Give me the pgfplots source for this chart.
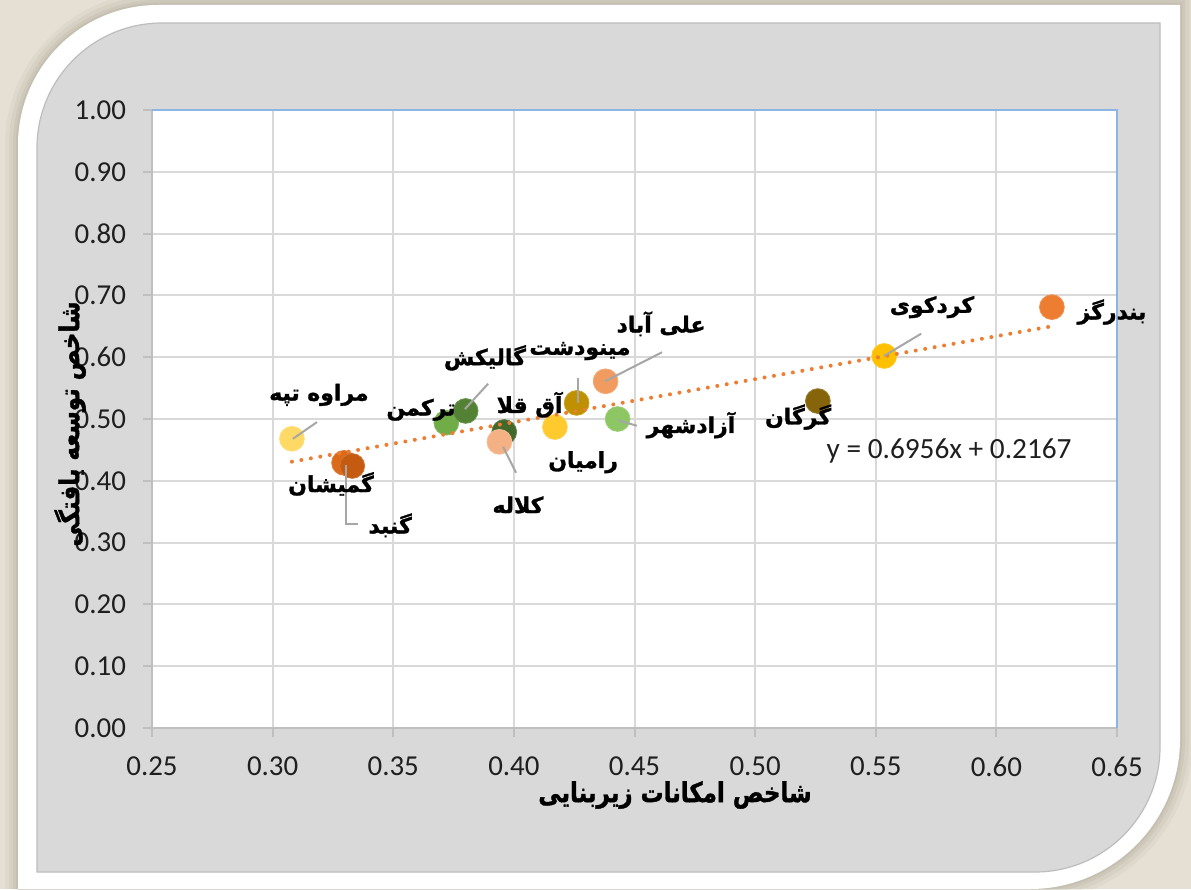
\documentclass[border=0pt]{standalone}
\usepackage{fontspec}
\setmainfont{Carlito}
\usepackage{pgfplots}
\pgfplotsset{compat=1.18}
\TeXXeTstate=1
\newfontfamily\fa[Script=Arabic, BoldFeatures={FakeBold=1.4}]{DejaVu Sans}
\definecolor{bgbeige}{HTML}{E6E0D4}
\definecolor{shadowc}{HTML}{A9A292}
\definecolor{panel}{HTML}{D9D9D9}
\definecolor{panelborder}{HTML}{BDBDBD}
\definecolor{gridc}{HTML}{D9D9D9}
\definecolor{axisc}{HTML}{BFBFBF}
\definecolor{bluec}{HTML}{8DB4E2}
\definecolor{leader}{HTML}{A6A6A6}
\definecolor{trend}{HTML}{ED7D31}
\definecolor{cMaraveh}{HTML}{FFD966}
\definecolor{cGomishan}{HTML}{DC6A1A}
\definecolor{cGonbad}{HTML}{C55A11}
\definecolor{cTorkaman}{HTML}{70AD47}
\definecolor{cGalikesh}{HTML}{548235}
\definecolor{cAghghala}{HTML}{43682B}
\definecolor{cKalaleh}{HTML}{F4B183}
\definecolor{cRamian}{HTML}{FFCA2E}
\definecolor{cMinoodasht}{HTML}{BF9000}
\definecolor{cAliabad}{HTML}{F19B61}
\definecolor{cAzadshahr}{HTML}{8CC763}
\definecolor{cGorgan}{HTML}{86650A}
\definecolor{cKordkuy}{HTML}{FFC000}
\definecolor{cBandargaz}{HTML}{ED7D31}
\newcommand{\lbl}{\fa\bfseries\fontsize{11}{13}\selectfont}
\newcommand{\pt}[3]{\addplot[only marks, mark=*, mark size=6.2bp, mark options={draw=#1!85!white, line width=0.4bp, fill=#1}] coordinates {(#2,#3)};}
\pgfplotsset{base/.style={
  at={(76bp,80.5bp)}, anchor=south west,
  scale only axis, width=482.5bp, height=309bp,
  xmin=0.25, xmax=0.65, ymin=0, ymax=1, clip=false}}
\begin{document}
\begin{tikzpicture}[x=0.5bp,y=0.5bp]
\useasboundingbox (0,0) rectangle (1191,889);
\fill[bgbeige] (0,0) rectangle (1191,889);
% soft shadow around the white frame
\foreach \w/\o in {26/0.10,18/0.14,10/0.18,4/0.22}{
  \draw[shadowc, opacity=\o, line width=\w*0.5bp] (18,0) -- (18,884-140) arc[start angle=180,end angle=90,radius=140] -- (1180,884) -- (1180,150) arc[start angle=0,end angle=-90,radius=150] -- (18,0);
}
\fill[white] (18,0) -- (18,884-140) arc[start angle=180,end angle=90,radius=140] -- (1180,884) -- (1180,150) arc[start angle=0,end angle=-90,radius=150] -- cycle;
\filldraw[fill=panel, draw=panelborder, line width=0.6bp] (37,17) -- (37,866-125) arc[start angle=180,end angle=90,radius=125] -- (1160,866) -- (1160,17+125) arc[start angle=0,end angle=-90,radius=125] -- cycle;
\begin{axis}[
  base,
  xtick={0.25,0.30,0.35,0.40,0.45,0.50,0.55,0.60,0.65},
  ytick={0,0.1,0.2,0.3,0.4,0.5,0.6,0.7,0.8,0.9,1.0},
  axis x line*=bottom, axis y line*=left,
  axis line style={axisc, line width=1bp},
  axis background/.style={fill=white},
  grid=major, grid style={gridc, line width=1bp},
  tick align=outside, major tick length=4.5bp,
  tick style={axisc, line width=1bp},
  /pgf/number format/.cd, fixed, fixed zerofill, precision=2, assume math mode=true,
  /pgfplots/.cd,
  ticklabel style={font=\fontsize{14.5}{17}\selectfont, text=black!88},
  yticklabel style={xshift=-5bp},
  xticklabel style={yshift=-6.5bp},
]
\pt{cMaraveh}{0.308}{0.468}
\pt{cGomishan}{0.3296}{0.429}
\pt{cGonbad}{0.333}{0.424}
\pt{cTorkaman}{0.372}{0.494}
\pt{cGalikesh}{0.380}{0.513}
\pt{cAghghala}{0.396}{0.479}
\pt{cKalaleh}{0.394}{0.463}
\pt{cRamian}{0.417}{0.487}
\pt{cMinoodasht}{0.426}{0.526}
\pt{cAliabad}{0.438}{0.561}
\pt{cAzadshahr}{0.443}{0.500}
\pt{cGorgan}{0.526}{0.529}
\pt{cKordkuy}{0.5535}{0.602}
\pt{cBandargaz}{0.623}{0.681}
\end{axis}
\begin{axis}[base, hide axis]
% linear trendline y = 0.6956x + 0.2167
\addplot[trend, line width=2bp, line cap=round, dash pattern=on 0pt off 4.8bp] coordinates {(0.308,0.4309) (0.623,0.6500)};
\draw[bluec, line width=0.8bp] (rel axis cs:0,1) -- (rel axis cs:1,1) -- (rel axis cs:1,0);
% leader lines
\draw[leader, line width=1bp] (axis cs:0.3084,0.468) -- (axis cs:0.3184,0.495);
\draw[leader, line width=1bp] (axis cs:0.3304,0.4256) -- (axis cs:0.3304,0.330) -- (axis cs:0.3354,0.330);
\draw[leader, line width=1bp] (axis cs:0.3797,0.516) -- (axis cs:0.3893,0.557);
\draw[leader, line width=1bp] (axis cs:0.4266,0.526) -- (axis cs:0.4266,0.566);
\draw[leader, line width=1bp] (axis cs:0.3955,0.455) -- (axis cs:0.4009,0.413);
\draw[leader, line width=1bp] (axis cs:0.4378,0.561) -- (axis cs:0.4614,0.608);
\draw[leader, line width=1bp] (axis cs:0.4432,0.498) -- (axis cs:0.451,0.489);
\draw[leader, line width=1bp] (axis cs:0.5534,0.602) -- (axis cs:0.5688,0.638);
% data labels
\node[font=\lbl] at (axis cs:0.3192,0.539) {\beginR مراوه تپه\endR};
\node[font=\lbl] at (axis cs:0.3242,0.395) {\beginR گمیشان\endR};
\node[font=\lbl] at (axis cs:0.3487,0.328) {\beginR گنبد\endR};
\node[font=\lbl] at (axis cs:0.3615,0.515) {\beginR ترکمن\endR};
\node[font=\lbl] at (axis cs:0.388,0.599) {\beginR گالیکش\endR};
\node[font=\lbl] at (axis cs:0.4274,0.610) {\beginR مینودشت\endR};
\node[font=\lbl] at (axis cs:0.4065,0.523) {\beginR آق قلا\endR};
\node[font=\lbl] at (axis cs:0.4017,0.361) {\beginR کلاله\endR};
\node[font=\lbl] at (axis cs:0.4287,0.430) {\beginR رامیان\endR};
\node[font=\lbl] at (axis cs:0.461,0.654) {\beginR علی آباد\endR};
\node[font=\lbl] at (axis cs:0.4734,0.490) {\beginR آزادشهر\endR};
\node[font=\lbl] at (axis cs:0.5178,0.503) {\beginR گرگان\endR};
\node[font=\lbl] at (axis cs:0.5733,0.681) {\beginR کردکوی\endR};
\node[font=\lbl] at (axis cs:0.6479,0.673) {\beginR بندرگز\endR};
\node[font=\fontsize{14.7}{17}\selectfont, text=black!88] at (axis cs:0.5804,0.448) {y = 0.6956x + 0.2167};
\end{axis}
\node[font=\fa\bfseries\fontsize{11.5}{14}\selectfont, yscale=1.2] at (675,94) {\beginR شاخص امکانات زیربنایی\endR};
\node[font=\fa\bfseries\fontsize{11.5}{14}\selectfont, rotate=90, yscale=1.2] at (70,465) {\beginR شاخص توسعه یافتگی\endR};
\end{tikzpicture}
\end{document}
